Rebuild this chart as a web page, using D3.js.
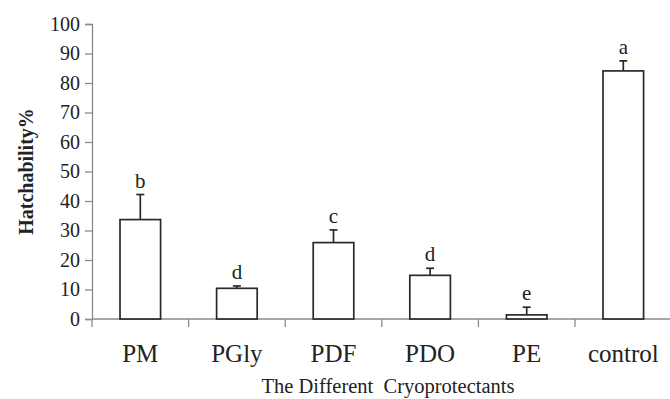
<!DOCTYPE html>
<html>
<head>
<meta charset="utf-8">
<script src="https://cdn.jsdelivr.net/npm/d3@7"></script>
<style>
  body { margin: 0; background: #fff; }
  text { font-family: "Liberation Serif", "Times New Roman", serif; fill: #222; }
</style>
</head>
<body>
<script>
// data
const categories = ["PM", "PGly", "PDF", "PDO", "PE", "control"];
const hatchability = [33.7, 10.4, 25.9, 14.8, 1.4, 84.1];
const errors = [8.5, 0.8, 4.3, 2.4, 2.6, 3.4];
const letters = ["b", "d", "c", "d", "e", "a"];
const yTicks = [0, 10, 20, 30, 40, 50, 60, 70, 80, 90, 100];

const width = 670, height = 399;
const margin = { top: 24, right: 0, bottom: 80, left: 92 };

const svg = d3.select("body")
  .append("svg")
  .attr("width", width)
  .attr("height", height);

const x = d3.scaleBand()
  .domain(categories)
  .range([margin.left, margin.left + 96.6 * 6])
  .paddingInner(0.58)
  .paddingOuter(0.29);

const y = d3.scaleLinear()
  .domain([0, 100])
  .range([319, margin.top]);

const axisColor = "#8a8a8a";

// y axis
const yAxis = svg.append("g")
  .attr("transform", `translate(${margin.left},0)`)
  .call(d3.axisLeft(y).tickValues(yTicks).tickSize(7).tickPadding(5));
yAxis.select(".domain").attr("stroke", axisColor).attr("stroke-width", 1.3);
yAxis.selectAll(".tick line").attr("stroke", axisColor).attr("stroke-width", 1.3);
yAxis.selectAll(".tick text")
  .attr("font-size", 20)
  .attr("font-family", "Liberation Serif")
  .attr("fill", "#222");

// x axis: line + ticks at band boundaries
const step = x.step();
const x0 = margin.left;
svg.append("line")
  .attr("x1", x0).attr("x2", x0 + step * categories.length)
  .attr("y1", y(0)).attr("y2", y(0))
  .attr("stroke", axisColor).attr("stroke-width", 1.3);
svg.selectAll(".xtick")
  .data(d3.range(categories.length + 1))
  .join("line")
  .attr("class", "xtick")
  .attr("x1", i => x0 + i * step).attr("x2", i => x0 + i * step)
  .attr("y1", y(0)).attr("y2", y(0) + 8)
  .attr("stroke", axisColor).attr("stroke-width", 1.3);

svg.selectAll(".xlab")
  .data(categories)
  .join("text")
  .attr("class", "xlab")
  .attr("x", d => x(d) + x.bandwidth() / 2)
  .attr("y", 362)
  .attr("text-anchor", "middle")
  .attr("font-size", 25)
  .text(d => d);

// bars
svg.selectAll(".bar")
  .data(hatchability)
  .join("rect")
  .attr("class", "bar")
  .attr("x", (d, i) => x(categories[i]))
  .attr("y", d => y(d))
  .attr("width", x.bandwidth())
  .attr("height", d => y(0) - y(d))
  .attr("fill", "#fff")
  .attr("stroke", "#2a2a2a")
  .attr("stroke-width", 1.7);

// error bars (upper only)
const cap = 4;
const err = svg.selectAll(".err")
  .data(hatchability)
  .join("g")
  .attr("class", "err")
  .attr("transform", (d, i) => `translate(${x(categories[i]) + x.bandwidth() / 2},0)`);
err.append("line")
  .attr("y1", d => y(d))
  .attr("y2", (d, i) => y(d + errors[i]))
  .attr("stroke", "#2a2a2a").attr("stroke-width", 1.7);
err.append("line")
  .attr("x1", -cap).attr("x2", cap)
  .attr("y1", (d, i) => y(d + errors[i]))
  .attr("y2", (d, i) => y(d + errors[i]))
  .attr("stroke", "#2a2a2a").attr("stroke-width", 1.7);

// significance letters
svg.selectAll(".sig")
  .data(hatchability)
  .join("text")
  .attr("class", "sig")
  .attr("x", (d, i) => x(categories[i]) + x.bandwidth() / 2)
  .attr("y", (d, i) => y(d + errors[i]) - 7)
  .attr("text-anchor", "middle")
  .attr("font-size", 21)
  .text((d, i) => letters[i]);

// axis titles
svg.append("text")
  .attr("transform", `translate(33,${(y(0) + y(100)) / 2}) rotate(-90)`)
  .attr("text-anchor", "middle")
  .attr("font-size", 20)
  .attr("font-weight", "bold")
  .text("Hatchability%");

svg.append("text")
  .attr("x", 388)
  .attr("y", 393)
  .attr("text-anchor", "middle")
  .attr("font-size", 20.5)
  .attr("xml:space", "preserve")
  .text("The Different  Cryoprotectants");
</script>
</body>
</html>
